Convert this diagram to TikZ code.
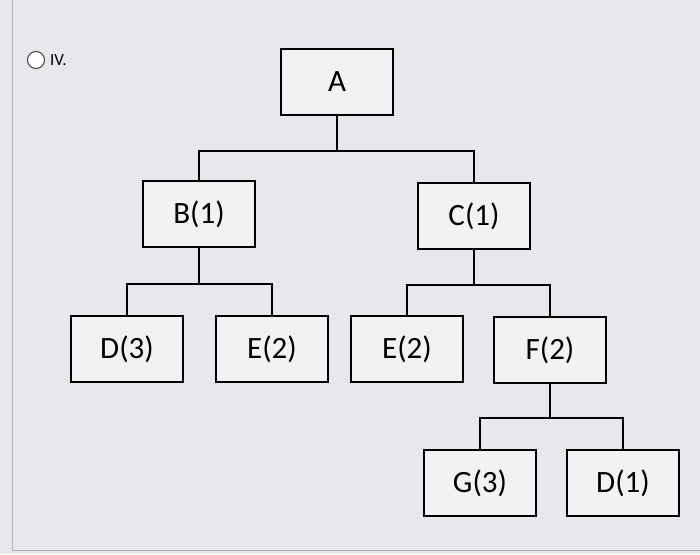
\documentclass[tikz,border=0pt]{standalone}
\usepackage{fontspec}
\setmainfont{Carlito}
\definecolor{bg}{HTML}{E9E7EB}
\tikzset{box/.style={draw=black,line width=1.6pt,fill=bg!60!white,minimum width=112pt,minimum height=66pt,font=\fontsize{31}{34}\selectfont},
conn/.style={line width=1.6pt}}
\begin{document}
\begin{tikzpicture}[x=1pt,y=-1pt]
\fill[bg] (0,0) rectangle (700,554);
\useasboundingbox (0,0) rectangle (700,554);
\draw[gray!60,line width=1pt] (12,0) -- (12,550) -- (700,550);
\node[draw=gray!70!black,line width=1.2pt,circle,minimum size=17pt,inner sep=0pt,fill=white] (radio) at (36,60) {};
\node[anchor=west,font=\fontsize{17}{19}\selectfont,inner sep=0pt] (lbl) at (50,60) {IV.};
\node[box] (A) at (337,82) {A};
\node[box] (B) at (199,214) {B(1)};
\node[box] (C) at (474,216) {C(1)};
\node[box] (D3) at (127,349) {D(3)};
\node[box] (E1) at (272,349) {E(2)};
\node[box] (E2) at (407,349) {E(2)};
\node[box] (F) at (550,350) {F(2)};
\node[box] (G) at (480,483) {G(3)};
\node[box] (D1) at (623,483) {D(1)};
\draw[conn] (A.south) -- ++(0,35) coordinate (a1);
\draw[conn] (B.north) |- (a1) -| (C.north);
\draw[conn] (B.south) -- ++(0,36) coordinate (b1);
\draw[conn] (D3.north) |- (b1) -| (E1.north);
\draw[conn] (C.south) -- ++(0,35) coordinate (c1);
\draw[conn] (E2.north) |- (c1) -| (F.north);
\draw[conn] (F.south) -- ++(0,34) coordinate (f1);
\draw[conn] (G.north) |- (f1) -| (D1.north);
\end{tikzpicture}
\end{document}
